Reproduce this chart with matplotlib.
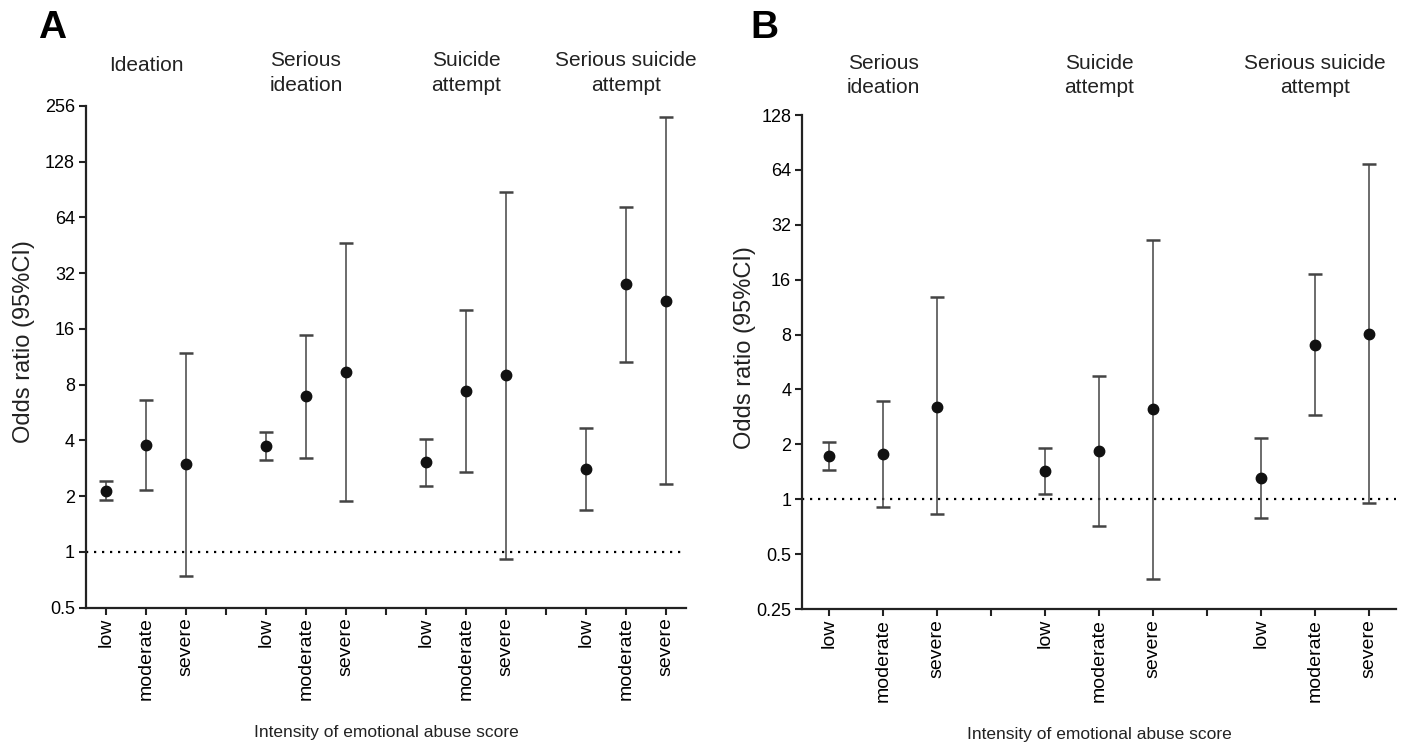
import numpy as np
import matplotlib
matplotlib.use("Agg")
import matplotlib.pyplot as plt
from matplotlib.ticker import FixedLocator, FixedFormatter

plt.rcParams['font.family'] = ['Liberation Sans', 'DejaVu Sans']

# ---------------------- data ----------------------
levels = ['low', 'moderate', 'severe']

groups_a = ['Ideation', 'Serious\nideation', 'Suicide\nattempt', 'Serious suicide\nattempt']
or_a = [2.14, 3.77, 2.97, 3.73, 6.93, 9.34, 3.06, 7.40, 9.03, 2.81, 28.0, 22.7]
lo_a = [1.91, 2.16, 0.74, 3.13, 3.23, 1.88, 2.28, 2.69, 0.917, 1.69, 10.65, 2.32]
hi_a = [2.42, 6.64, 11.87, 4.46, 14.85, 46.6, 4.08, 20.3, 88.2, 4.65, 73.2, 222.6]
yticks_a = [0.5, 1, 2, 4, 8, 16, 32, 64, 128, 256]

groups_b = ['Serious\nideation', 'Suicide\nattempt', 'Serious suicide\nattempt']
or_b = [1.72, 1.77, 3.22, 1.42, 1.84, 3.12, 1.31, 7.01, 8.09]
lo_b = [1.45, 0.906, 0.833, 1.07, 0.716, 0.367, 0.789, 2.89, 0.953]
hi_b = [2.07, 3.47, 12.9, 1.90, 4.74, 26.4, 2.16, 17.1, 68.7]
yticks_b = [0.25, 0.5, 1, 2, 4, 8, 16, 32, 64, 128]

xlabel = 'Intensity of emotional abuse score'
ylabel = 'Odds ratio (95%CI)'


def fmt_tick(v):
    return ('%g' % v)


def draw_panel(ax, groups, ors, los, his, yticks, title_y):
    n = len(groups)
    ors = np.array(ors)
    los = np.array(los)
    his = np.array(his)
    pos = np.array([g * 4 + k + 1 for g in range(n) for k in range(3)])

    ax.axhline(1, color='black', lw=1.6, ls=(0, (1, 2.6)), zorder=1)

    line, caps, bars = ax.errorbar(pos, ors, yerr=[ors - los, his - ors], fmt='o',
                                   color='#111111', ms=7.5, ecolor='#444444',
                                   elinewidth=1.1, capsize=5, capthick=1.8, zorder=3)
    for c in caps:
        c.set_color('#111111')

    ax.set_yscale('log', base=2)
    ax.set_ylim(yticks[0], yticks[-1])
    ax.yaxis.set_major_locator(FixedLocator(yticks))
    ax.yaxis.set_major_formatter(FixedFormatter([fmt_tick(v) for v in yticks]))
    ax.yaxis.set_minor_locator(FixedLocator([]))

    xt = np.arange(1, n * 4)
    xl = [levels[(i - 1) % 4] if (i % 4) != 0 else '' for i in xt]
    ax.set_xticks(xt)
    ax.set_xticklabels(xl, rotation=90, fontsize=14)
    ax.set_xlim(0.5, n * 4 - 0.5)

    for s in ['top', 'right']:
        ax.spines[s].set_visible(False)
    for s in ['left', 'bottom']:
        ax.spines[s].set_linewidth(1.6)
        ax.spines[s].set_color('#222222')
    ax.tick_params(axis='both', direction='out', length=5, width=1.5, color='#222222')
    ax.tick_params(axis='y', labelsize=13, pad=3)
    ax.tick_params(axis='x', pad=2)

    ax.set_xlabel(xlabel, fontsize=12.5, labelpad=18, color='#222222')
    ax.set_ylabel(ylabel, fontsize=17, color='#222222')

    for g, t in enumerate(groups):
        yy = title_y + 0.015 if '\n' not in t else title_y
        ax.text(g * 4 + 2, yy, t, transform=ax.get_xaxis_transform(), ha='center',
                va='center', fontsize=15, linespacing=1.35, color='#222222')


fig = plt.figure(figsize=(14.05, 7.48), dpi=100)
ax_a = fig.add_axes([0.0612, 0.1876, 0.427, 0.6707])
ax_b = fig.add_axes([0.571, 0.1858, 0.4226, 0.6604])

draw_panel(ax_a, groups_a, or_a, lo_a, hi_a, yticks_a, 1.066)
draw_panel(ax_b, groups_b, or_b, lo_b, hi_b, yticks_b, 1.08)
ax_a.yaxis.set_label_coords(-0.085, 0.53)
ax_b.yaxis.set_label_coords(-0.078, 0.53)

fig.text(0.027, 0.987, 'A', fontsize=28, fontweight='bold', va='top', ha='left')
fig.text(0.534, 0.987, 'B', fontsize=28, fontweight='bold', va='top', ha='left')

fig.savefig('out.png', dpi=100)
